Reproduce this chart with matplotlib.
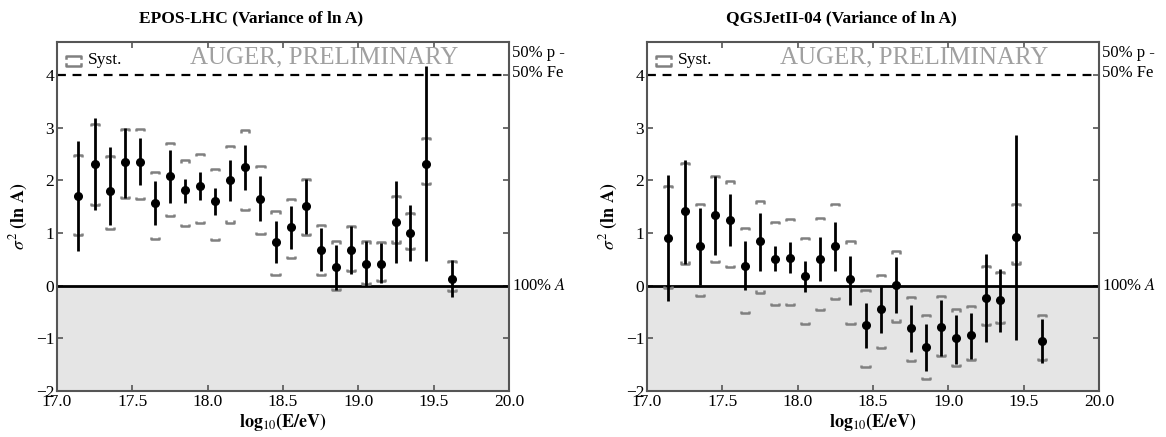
import matplotlib
matplotlib.use('Agg')
import matplotlib.pyplot as plt
import matplotlib.transforms as mtransforms
import numpy as np

plt.rcParams['font.family'] = ['Liberation Serif', 'DejaVu Serif']
plt.rcParams['mathtext.fontset'] = 'stix'

# energy bins, log10(E/eV)
lgE = [17.14, 17.25, 17.35, 17.45, 17.55, 17.65, 17.75, 17.85, 17.95, 18.05,
       18.15, 18.25, 18.35, 18.45, 18.55, 18.65, 18.75, 18.85, 18.95, 19.05,
       19.15, 19.25, 19.34, 19.45, 19.62]

# EPOS-LHC
epos_val = [1.71, 2.32, 1.80, 2.35, 2.35, 1.58, 2.08, 1.82, 1.90, 1.60,
            2.00, 2.26, 1.65, 0.83, 1.11, 1.51, 0.68, 0.36, 0.68, 0.42,
            0.42, 1.21, 1.00, 2.31, 0.13]
epos_stat_hi = [2.75, 3.18, 2.63, 2.99, 2.80, 1.99, 2.58, 2.02, 2.16, 1.85,
                2.39, 2.68, 2.08, 1.22, 1.52, 2.02, 1.09, 0.77, 1.14, 0.85,
                0.82, 1.99, 1.54, 4.17, 0.49]
epos_stat_lo = [0.65, 1.44, 1.16, 1.66, 1.92, 1.16, 1.58, 1.58, 1.63, 1.34,
                1.60, 1.82, 1.23, 0.44, 0.70, 0.98, 0.27, -0.08, 0.22, 0.00,
                0.06, 0.43, 0.46, 0.46, -0.22]
epos_sys_hi = [2.49, 3.07, 2.47, 2.97, 2.97, 2.16, 2.71, 2.38, 2.50, 2.21,
               2.66, 2.95, 2.27, 1.41, 1.65, 2.02, 1.16, 0.84, 1.13, 0.84,
               0.83, 1.70, 1.39, 2.80, 0.47]
epos_sys_lo = [0.97, 1.54, 1.08, 1.66, 1.65, 0.89, 1.33, 1.13, 1.19, 0.87,
               1.20, 1.44, 0.98, 0.21, 0.53, 0.96, 0.21, -0.08, 0.27, 0.03,
               0.08, 0.82, 0.70, 1.93, -0.10]

# QGSJetII-04
qgs_val = [0.91, 1.41, 0.75, 1.34, 1.25, 0.38, 0.84, 0.51, 0.53, 0.18,
           0.51, 0.75, 0.12, -0.75, -0.45, 0.01, -0.81, -1.17, -0.78, -1.00,
           -0.94, -0.23, -0.27, 0.93, -1.05]
qgs_stat_hi = [2.10, 2.38, 1.47, 2.08, 1.74, 0.84, 1.39, 0.75, 0.83, 0.47,
               0.93, 1.21, 0.56, -0.33, 0.00, 0.54, -0.36, -0.72, -0.27, -0.56,
               -0.52, 0.61, 0.31, 2.87, -0.64]
qgs_stat_lo = [-0.29, 0.42, 0.01, 0.59, 0.75, -0.08, 0.27, 0.27, 0.24, -0.12,
               0.08, 0.27, -0.36, -1.19, -0.89, -0.52, -1.26, -1.62, -1.33, -1.48,
               -1.39, -1.07, -0.87, -1.04, -1.47]
qgs_sys_hi = [1.90, 2.33, 1.55, 2.08, 1.98, 1.09, 1.60, 1.21, 1.27, 0.91,
              1.29, 1.56, 0.84, -0.08, 0.21, 0.65, -0.21, -0.56, -0.19, -0.45,
              -0.39, 0.38, 0.26, 1.55, -0.55]
qgs_sys_lo = [-0.04, 0.42, -0.19, 0.45, 0.35, -0.52, -0.13, -0.36, -0.36, -0.73,
              -0.47, -0.25, -0.72, -1.55, -1.18, -0.68, -1.43, -1.77, -1.34, -1.52,
              -1.42, -0.75, -0.71, 0.42, -1.42]

titles = ['EPOS-LHC (Variance of ln A)', 'QGSJetII-04 (Variance of ln A)']

spine_col = '#555555'
sys_col = '#808080'


def bracket(ax, x, y, up, w=0.027, t=0.04):
    # up=True -> upper bracket with tips pointing down
    s = -1 if up else 1
    ax.plot([x - w, x - w, x + w, x + w], [y + s * t, y, y, y + s * t],
            color=sys_col, lw=1.8, solid_capstyle='butt', zorder=3)


def panel(ax, title, val, shi, slo, yhi, ylo):
    ax.axhspan(-2, 0, color='#e5e5e5', zorder=0, lw=0)
    ax.axhline(0, color='black', lw=2, zorder=2)
    ax.axhline(4, color='black', lw=1.6, ls=(0, (4, 3)), zorder=2)

    x = np.array(lgE)
    v = np.array(val)
    err = [v - np.array(slo), np.array(shi) - v]
    ax.errorbar(x, v, yerr=err, fmt='o', color='black', ms=5.5, elinewidth=2.0,
                capsize=0, zorder=5)
    for xi, hi, lo in zip(lgE, yhi, ylo):
        bracket(ax, xi, hi, True)
        bracket(ax, xi, lo, False)

    ax.set_xlim(17.0, 20.0)
    ax.set_ylim(-2, 4.63)
    ax.set_xticks(np.arange(17.0, 20.01, 0.5))
    ax.set_xticklabels(['%.1f' % t for t in np.arange(17.0, 20.01, 0.5)])
    ax.set_yticks(range(-2, 5))
    ax.set_yticklabels(['\u22122', '\u22121', '0', '1', '2', '3', '4'])
    ax.tick_params(direction='in', top=True, right=True, length=4, width=1.2,
                   color=spine_col, labelsize=12.5, pad=2)
    for sp in ax.spines.values():
        sp.set_color(spine_col)
        sp.set_linewidth(1.5)

    ax.text(0.43, 1.067, title, transform=ax.transAxes, ha='center',
            va='center', fontsize=12.5, fontweight='bold')
    ax.set_xlabel(r'$\mathbf{log}_{10}\mathbf{(E/eV)}$', fontsize=13, labelpad=1)
    ax.set_ylabel(r'$\sigma^2$ $\mathbf{(ln\ A)}$', fontsize=13, labelpad=4)

    ax.text(0.887, 0.957, 'AUGER, PRELIMINARY', transform=ax.transAxes,
            ha='right', va='center', fontsize=18, color='#a0a0a0')

    # Syst. legend icon
    ta = ax.transAxes
    x0, x1 = 0.02, 0.053
    ax.plot([x0, x0, x1, x1], [0.954, 0.960, 0.960, 0.954], color=sys_col,
            lw=1.8, transform=ta, clip_on=False)
    ax.plot([x0, x0, x1, x1], [0.938, 0.932, 0.932, 0.938], color=sys_col,
            lw=1.8, transform=ta, clip_on=False)
    ax.text(0.068, 0.948, 'Syst.', transform=ta, ha='left', va='center',
            fontsize=12.5)

    tr = mtransforms.blended_transform_factory(ax.transAxes, ax.transData)
    ax.text(1.006, 4.42, '50% p -', transform=tr, ha='left', va='center', fontsize=12)
    ax.text(1.006, 4.05, '50% Fe', transform=tr, ha='left', va='center', fontsize=12)
    ax.text(1.006, 0.0, '100% $A$', transform=tr, ha='left', va='center', fontsize=12)


fig = plt.figure(figsize=(11.66, 4.37), dpi=100)
ax1 = fig.add_axes([0.0489, 0.1053, 0.3877, 0.7986])
ax2 = fig.add_axes([0.5549, 0.1053, 0.3877, 0.7986])

panel(ax1, titles[0], epos_val, epos_stat_hi, epos_stat_lo, epos_sys_hi, epos_sys_lo)
panel(ax2, titles[1], qgs_val, qgs_stat_hi, qgs_stat_lo, qgs_sys_hi, qgs_sys_lo)

fig.savefig('out.png', dpi=100)
